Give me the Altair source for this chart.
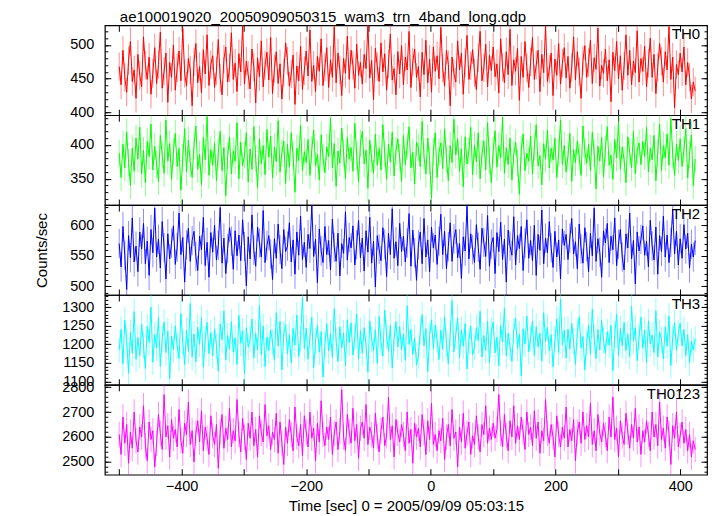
import math
import altair as alt
import pandas as pd

FONT = "Liberation Sans"
TITLE = "ae100019020_20050909050315_wam3_trn_4band_long.qdp"
X_TITLE = "Time [sec] 0 = 2005/09/09 05:03:15"
Y_TITLE = "Counts/sec"
BANDS = ["TH0", "TH1", "TH2", "TH3", "TH0123"]
COLORS = ["#ff0000", "#00ff00", "#0000ff", "#00ffff", "#ff00ff"]
TIME_START = -500
TIME_STEP = 3

TH0 = [468, 441, 492, 452, 430, 477, 505, 446, 463, 421,
       486, 455, 438, 512, 470, 449, 482, 427, 458, 496,
       443, 471, 519, 436, 461, 488, 415, 474, 452, 500,
       433, 466, 491, 447, 524, 458, 439, 480, 463, 410,
       475, 502, 444, 468, 429, 493, 457, 515, 440, 471,
       484, 437, 462, 508, 451, 426, 479, 497, 445, 466,
       518, 449, 473, 431, 487, 460, 529, 442, 476, 455,
       435, 494, 467, 414, 481, 453, 506, 438, 470, 489,
       448, 511, 428, 465, 490, 443, 472, 420, 459, 503,
       476, 439, 457, 485, 412, 469, 447, 498, 434, 462,
       491, 454, 522, 446, 470, 431, 483, 461, 509, 440,
       467, 496, 437, 478, 452, 527, 444, 488, 463, 425,
       480, 458, 513, 449, 492, 470, 436, 501, 455, 474,
       442, 486, 465, 530, 451, 477, 419, 495, 468, 446,
       503, 460, 487, 433, 472, 516, 448, 465, 426, 490,
       457, 499, 441, 482, 463, 520, 437, 475, 494, 452,
       468, 423, 489, 456, 507, 444, 479, 430, 497, 461,
       484, 450, 526, 466, 439, 492, 471, 410, 482, 458,
       445, 506, 463, 488, 427, 474, 514, 449, 469, 493,
       459, 434, 481, 520, 447, 466, 501, 438, 485, 462,
       497, 453, 472, 429, 509, 467, 444, 490, 456, 523,
       440, 478, 461, 495, 418, 483, 452, 505, 466, 437,
       475, 511, 449, 470, 492, 431, 486, 459, 528, 446,
       464, 488, 425, 479, 455, 502, 442, 473, 496, 451,
       483, 436, 467, 512, 448, 490, 460, 421, 477, 499,
       452, 474, 507, 443, 481, 464, 525, 439, 470, 458,
       494, 447, 478, 416, 489, 462, 505, 450, 484, 433,
       469, 515, 455, 492, 441, 476, 459, 521, 445, 480,
       461, 498, 438, 473, 510, 452, 486, 428, 467, 502,
       476, 445, 490, 463, 527, 449, 482, 407, 471, 456,
       488, 460, 497, 441, 474, 452, 420, 445, 432]

TH1 = [388, 352, 401, 366, 419, 374, 340, 395, 361, 410,
       379, 426, 357, 392, 344, 405, 383, 431, 363, 398,
       371, 346, 414, 385, 358, 437, 376, 402, 349, 390,
       417, 368, 395, 333, 381, 424, 360, 407, 373, 352,
       399, 428, 364, 386, 341, 411, 378, 442, 355, 393,
       370, 403, 347, 389, 420, 362, 396, 325, 384, 412,
       357, 391, 376, 433, 350, 404, 369, 385, 418, 345,
       394, 364, 427, 380, 337, 409, 372, 399, 356, 423,
       382, 413, 351, 397, 375, 436, 360, 388, 406, 343,
       401, 367, 418, 384, 330, 395, 377, 429, 362, 390,
       374, 408, 355, 393, 422, 369, 386, 348, 415, 381,
       359, 397, 383, 440, 366, 402, 339, 391, 373, 425,
       388, 350, 411, 379, 396, 361, 432, 384, 345, 403,
       420, 372, 392, 336, 407, 380, 358, 416, 370, 395,
       363, 430, 387, 349, 401, 375, 419, 354, 392, 409,
       381, 346, 414, 371, 398, 427, 366, 389, 342, 404,
       396, 368, 435, 383, 357, 410, 377, 321, 390, 418,
       352, 389, 403, 365, 424, 380, 347, 399, 374, 438,
       385, 409, 361, 394, 338, 412, 372, 391, 426, 356,
       400, 375, 418, 350, 387, 406, 363, 433, 378, 344,
       392, 421, 367, 399, 381, 441, 358, 396, 371, 410,
       348, 386, 404, 373, 327, 393, 416, 362, 388, 376,
       413, 357, 397, 430, 369, 384, 341, 402, 379, 422,
       366, 395, 378, 410, 352, 388, 437, 371, 399, 360,
       384, 417, 346, 393, 374, 406, 382, 355, 428, 390,
       373, 401, 362, 419, 387, 335, 398, 376, 411, 353,
       394, 427, 370, 385, 349, 408, 381, 434, 364, 397,
       378, 344, 412, 389, 366, 420, 357, 392, 403, 371,
       405, 383, 426, 360, 395, 378, 414, 347, 388, 431,
       362, 399, 381, 416, 370, 439, 385, 355, 401, 377,
       409, 368, 393, 424, 351, 386, 415, 340, 379]

TH2 = [570, 532, 598, 551, 495, 583, 547, 612, 540, 566,
       524, 589, 561, 603, 537, 574, 518, 593, 555, 628,
       548, 577, 530, 606, 563, 512, 586, 545, 571, 599,
       536, 564, 620, 552, 580, 507, 568, 595, 541, 575,
       590, 549, 526, 582, 560, 613, 534, 572, 515, 588,
       556, 600, 543, 567, 629, 538, 579, 521, 562, 596,
       574, 528, 591, 550, 584, 542, 609, 565, 501, 581,
       545, 617, 559, 533, 597, 571, 548, 624, 539, 567,
       583, 553, 511, 578, 546, 602, 560, 529, 593, 557,
       566, 604, 540, 576, 520, 589, 551, 615, 544, 572,
       531, 585, 562, 633, 549, 577, 506, 594, 558, 539,
       598, 552, 575, 527, 610, 564, 541, 587, 517, 570,
       554, 622, 543, 580, 563, 599, 535, 568, 608, 547,
       579, 525, 591, 556, 613, 538, 574, 499, 583, 561,
       542, 596, 569, 516, 587, 552, 627, 546, 573, 534,
       603, 557, 582, 540, 571, 619, 533, 592, 555, 510,
       568, 589, 537, 611, 548, 576, 524, 597, 563, 584,
       536, 574, 618, 552, 590, 529, 565, 604, 541, 578,
       593, 547, 570, 513, 581, 558, 631, 545, 586, 560,
       539, 601, 564, 528, 595, 572, 549, 616, 533, 569,
       580, 521, 588, 557, 605, 544, 577, 507, 592, 566,
       551, 614, 535, 583, 562, 598, 526, 571, 609, 546,
       575, 542, 600, 518, 585, 559, 625, 537, 579, 555,
       606, 563, 531, 590, 548, 576, 512, 594, 567, 585,
       544, 579, 611, 553, 573, 529, 602, 561, 538, 596,
       565, 524, 587, 550, 628, 541, 578, 556, 515, 591,
       571, 603, 539, 582, 560, 612, 534, 569, 593, 548,
       527, 586, 563, 620, 545, 575, 504, 589, 558, 577,
       599, 551, 574, 532, 608, 566, 543, 597, 520, 583,
       557, 615, 548, 584, 539, 572, 626, 553, 590, 535,
       578, 546, 601, 561, 587, 530, 569, 548, 575]

TH3 = [1185, 1240, 1148, 1265, 1210, 1122, 1232, 1176, 1288, 1160,
       1218, 1170, 1255, 1198, 1135, 1248, 1205, 1300, 1152, 1226,
       1190, 1272, 1141, 1215, 1260, 1178, 1236, 1108, 1222, 1186,
       1250, 1195, 1162, 1283, 1207, 1145, 1238, 1181, 1310, 1166,
       1228, 1153, 1246, 1200, 1270, 1138, 1214, 1259, 1175, 1232,
       1169, 1242, 1195, 1128, 1255, 1212, 1290, 1158, 1224, 1187,
       1261, 1179, 1218, 1146, 1278, 1203, 1236, 1120, 1245, 1192,
       1213, 1268, 1164, 1230, 1184, 1305, 1172, 1249, 1140, 1220,
       1183, 1239, 1206, 1157, 1285, 1196, 1262, 1131, 1228, 1254,
       1174, 1226, 1150, 1243, 1198, 1279, 1167, 1215, 1327, 1189,
       1244, 1160, 1221, 1273, 1137, 1208, 1251, 1179, 1234, 1112,
       1199, 1256, 1182, 1229, 1165, 1296, 1211, 1154, 1247, 1190,
       1231, 1143, 1266, 1204, 1258, 1171, 1219, 1282, 1160, 1237,
       1176, 1245, 1198, 1125, 1263, 1214, 1183, 1240, 1149, 1275,
       1207, 1168, 1292, 1223, 1181, 1252, 1136, 1216, 1261, 1193,
       1248, 1186, 1227, 1157, 1304, 1200, 1240, 1173, 1218, 1145,
       1169, 1235, 1280, 1196, 1242, 1127, 1222, 1266, 1188, 1252,
       1213, 1159, 1238, 1187, 1274, 1203, 1147, 1229, 1318, 1180,
       1225, 1271, 1164, 1240, 1195, 1256, 1134, 1210, 1249, 1172,
       1192, 1245, 1210, 1289, 1166, 1224, 1183, 1262, 1151, 1236,
       1260, 1177, 1219, 1142, 1250, 1206, 1297, 1169, 1230, 1194,
       1154, 1237, 1270, 1189, 1228, 1115, 1242, 1201, 1276, 1180,
       1216, 1263, 1170, 1248, 1193, 1230, 1155, 1285, 1207, 1246,
       1182, 1226, 1139, 1211, 1268, 1178, 1322, 1199, 1238, 1163,
       1241, 1187, 1256, 1208, 1146, 1233, 1274, 1190, 1221, 1132,
       1203, 1252, 1173, 1295, 1217, 1162, 1240, 1185, 1264, 1211,
       1176, 1234, 1198, 1251, 1129, 1226, 1281, 1170, 1243, 1196,
       1259, 1183, 1228, 1167, 1302, 1209, 1245, 1156, 1220, 1273,
       1190, 1238, 1151, 1262, 1201, 1225, 1178, 1290, 1166, 1232,
       1213, 1161, 1247, 1195, 1276, 1143, 1219, 1258, 1184, 1229,
       1257, 1196, 1240, 1170, 1226, 1150, 1208, 1185, 1215]

TH0123 = [2610, 2530, 2680, 2575, 2650, 2495, 2620, 2555, 2700, 2585,
          2540, 2640, 2600, 2725, 2565, 2505, 2660, 2590, 2625, 2480,
          2575, 2690, 2615, 2550, 2770, 2600, 2645, 2520, 2670, 2595,
          2630, 2560, 2710, 2585, 2535, 2655, 2610, 2740, 2570, 2625,
          2500, 2615, 2665, 2580, 2705, 2545, 2640, 2595, 2530, 2685,
          2605, 2570, 2650, 2475, 2620, 2690, 2555, 2635, 2590, 2715,
          2560, 2625, 2585, 2750, 2610, 2540, 2675, 2600, 2510, 2655,
          2595, 2700, 2565, 2630, 2520, 2685, 2615, 2580, 2730, 2605,
          2645, 2550, 2620, 2590, 2695, 2535, 2660, 2575, 2490, 2640,
          2575, 2670, 2610, 2545, 2720, 2600, 2565, 2650, 2525, 2685,
          2620, 2560, 2700, 2595, 2635, 2505, 2655, 2580, 2745, 2610,
          2565, 2640, 2590, 2680, 2530, 2615, 2660, 2550, 2625, 2790,
          2600, 2545, 2690, 2620, 2575, 2715, 2585, 2650, 2515, 2635,
          2660, 2595, 2730, 2570, 2640, 2610, 2555, 2695, 2600, 2540,
          2625, 2680, 2565, 2605, 2760, 2590, 2645, 2520, 2670, 2615,
          2580, 2650, 2610, 2545, 2700, 2575, 2630, 2495, 2655, 2600,
          2635, 2560, 2690, 2620, 2530, 2665, 2590, 2735, 2570, 2610,
          2545, 2625, 2585, 2675, 2510, 2600, 2650, 2565, 2710, 2595,
          2620, 2480, 2640, 2580, 2695, 2555, 2615, 2660, 2530, 2605,
          2570, 2685, 2600, 2540, 2650, 2610, 2725, 2575, 2635, 2590,
          2655, 2595, 2630, 2770, 2615, 2560, 2690, 2605, 2545, 2665,
          2600, 2725, 2575, 2645, 2590, 2680, 2620, 2550, 2700, 2610,
          2640, 2565, 2705, 2595, 2660, 2535, 2625, 2585, 2750, 2615,
          2575, 2650, 2600, 2520, 2685, 2610, 2560, 2640, 2595, 2720,
          2560, 2630, 2585, 2670, 2505, 2620, 2660, 2575, 2700, 2590,
          2645, 2600, 2735, 2570, 2625, 2545, 2690, 2615, 2580, 2655,
          2610, 2545, 2680, 2600, 2760, 2590, 2635, 2520, 2665, 2605,
          2570, 2695, 2620, 2555, 2650, 2595, 2715, 2580, 2640, 2530,
          2625, 2580, 2665, 2610, 2545, 2700, 2600, 2650, 2565, 2740,
          2590, 2635, 2555, 2680, 2615, 2490, 2645, 2595, 2700, 2560,
          2605, 2660, 2575, 2630, 2545, 2610, 2520, 2585, 2550]

SERIES = [TH0, TH1, TH2, TH3, TH0123]
ERRORS = [21, 20, 24, 35, 51]
Y_DOMAINS = [[396, 529], [311, 444], [486, 633], [1091, 1333], [2449, 2809]]
Y_MAJOR = [[400, 450, 500], [350, 400], [500, 550, 600],
           [1100, 1150, 1200, 1250, 1300], [2500, 2600, 2700, 2800]]
Y_MINOR_STEP = [10, 10, 10, 10, 20]
X_DOMAIN = [-523, 443]
X_TICKS = [-500, -400, -300, -200, -100, 0, 100, 200, 300, 400]

W = 603
H = 90
MAJ = 6
MIN = 3

times = [TIME_START + TIME_STEP * k for k in range(len(TH0))]


def make_panel(i):
    last = i == len(SERIES) - 1
    df = pd.DataFrame({"time": times, "rate": SERIES[i]})
    df["lo"] = df["rate"] - ERRORS[i]
    df["hi"] = df["rate"] + ERRORS[i]
    lo, hi = Y_DOMAINS[i]
    step = Y_MINOR_STEP[i]
    minor_vals = list(range(int(math.ceil(lo / step)) * step, hi + 1, step))

    xs = alt.Scale(domain=X_DOMAIN, nice=False, zero=False)
    ys = alt.Scale(domain=Y_DOMAINS[i], nice=False, zero=False)

    common = dict(domain=False, grid=False, tickColor="black", tickWidth=1,
                  labelFlush=False, labelOverlap=False)

    x_bottom = alt.Axis(orient="bottom", values=X_TICKS, offset=-MAJ, tickSize=MAJ,
                        labels=last, labelPadding=5,
                        labelExpr="datum.value % 200 === 0 ? datum.label : ''",
                        titlePadding=5, **common)
    x_top = alt.Axis(orient="top", values=X_TICKS, offset=-MAJ, tickSize=MAJ,
                     labels=False, **common)
    y_left = alt.Axis(orient="left", values=Y_MAJOR[i], offset=-MAJ, tickSize=MAJ,
                      format="d", labelPadding=11, titlePadding=20, **common)
    y_right = alt.Axis(orient="right", values=Y_MAJOR[i], offset=-MAJ, tickSize=MAJ,
                       labels=False, **common)
    y_left_minor = alt.Axis(orient="left", values=minor_vals, offset=-MIN, tickSize=MIN,
                            labels=False, **common)
    y_right_minor = alt.Axis(orient="right", values=minor_vals, offset=-MIN, tickSize=MIN,
                             labels=False, **common)

    base = alt.Chart(df)
    err = base.mark_rule(color=COLORS[i], strokeWidth=1, opacity=0.45, clip=True).encode(
        x=alt.X("time:Q", scale=xs, axis=x_bottom, title=X_TITLE if last else None),
        y=alt.Y("lo:Q", scale=ys, axis=y_left, title=Y_TITLE if i == 2 else None),
        y2="hi:Q",
    )
    line = base.mark_line(color=COLORS[i], strokeWidth=1, clip=True).encode(
        x=alt.X("time:Q", scale=xs, axis=x_top, title=None),
        y=alt.Y("rate:Q", scale=ys, axis=y_right, title=None),
    )
    ml = base.mark_point(opacity=0, size=1, clip=True).encode(
        x=alt.X("time:Q", scale=xs, axis=None),
        y=alt.Y("rate:Q", scale=ys, axis=y_left_minor, title=None),
    )
    mr = base.mark_point(opacity=0, size=1, clip=True).encode(
        x=alt.X("time:Q", scale=xs, axis=None),
        y=alt.Y("rate:Q", scale=ys, axis=y_right_minor, title=None),
    )
    lab = alt.Chart(pd.DataFrame({"band": [BANDS[i]]})).mark_text(
        align="right", baseline="top", font=FONT, fontSize=15, color="black"
    ).encode(x=alt.value(W - 7), y=alt.value(2), text="band:N")

    layer = alt.layer(err, line, ml, mr, lab).resolve_axis(x="independent", y="independent")
    props = dict(width=W, height=H)
    if i == 0:
        props["title"] = alt.TitleParams(TITLE, anchor="start", frame="group", dx=15,
                                         font=FONT, fontSize=15, fontWeight="normal",
                                         color="black", offset=0)
    return layer.properties(**props)


chart = alt.vconcat(*[make_panel(i) for i in range(len(SERIES))],
                    spacing=0, bounds="flush").properties(
    padding={"left": 26, "top": 0, "right": 0, "bottom": 0}
).configure_view(
    stroke="black", strokeWidth=1.2
).configure_axis(
    labelFont=FONT, labelFontSize=14.5, labelColor="black",
    titleFont=FONT, titleFontSize=15, titleFontWeight="normal", titleColor="black"
).configure_concat(spacing=0)

chart.save("out.html", embed_options={"renderer": "svg", "actions": False})
